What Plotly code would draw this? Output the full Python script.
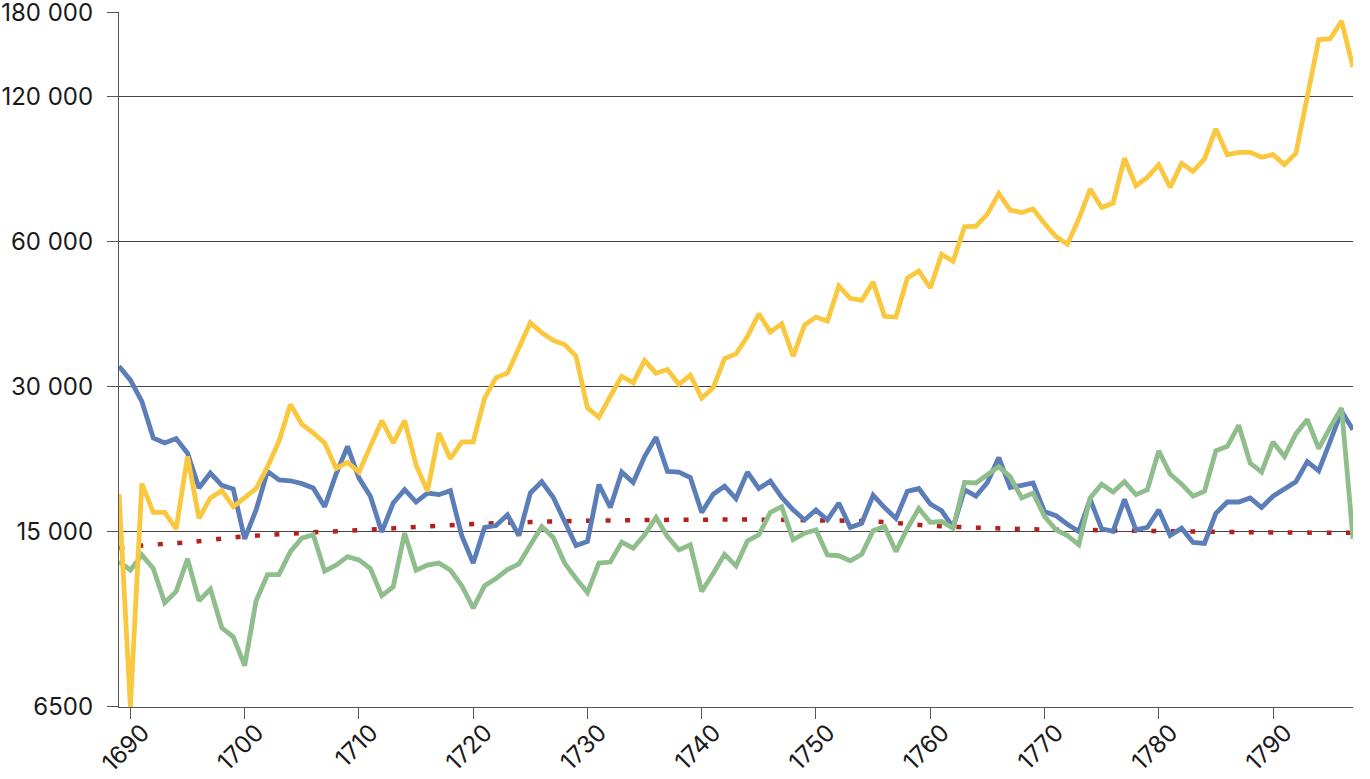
import plotly.graph_objects as go

years = list(range(1689, 1798))

yellow = [
    17970,
    6500, 18900, 16470, 16470, 15230, 21520, 16010, 17650, 18280, 16930,   # 1690-1699
    17650, 18460, 20500, 23140, 27590, 25130, 24080, 22960, 20330, 20920,  # 1700-1709
    19970, 22590, 25540, 22960, 25540, 20670, 18220, 24080, 21290, 23070,  # 1710-1719
    23070, 28450, 31380, 32040, 36170, 40780, 38880, 37480, 36760, 34760,  # 1720-1729
    27150, 25950, 28700, 31590, 30600, 34040, 32040, 32620, 30390, 31730,  # 1730-1739
    28450, 29870, 34370, 35140, 38180, 42570, 39010, 40580, 34760, 40330,  # 1740-1749
    41900, 41110, 48600, 45840, 45400, 49520, 42060, 41900, 50490, 52230,  # 1750-1759
    48140, 56560, 54680, 64500, 64720, 68530, 75660, 69880, 69080, 70220,  # 1760-1769
    65540, 61560, 59340, 66930, 77250, 70740, 72250, 89500, 78490, 81700,  # 1770-1779
    86820, 77850, 87360, 84080, 89250, 103000, 91070, 92100, 92100, 89950, # 1780-1789
    91070, 86820, 91640, 119800, 157700, 158500, 172400, 138400,           # 1790-1797
]

blue = [
    33140,
    31000, 28010, 23500, 22960, 23440, 21860, 18510, 19880, 18750, 18420,  # 1690-1699
    14510, 16670, 20040, 19240, 19160, 18900, 18510, 16930, 19790, 22590,  # 1700-1709
    19410, 17800, 15000, 17230, 18360, 17310, 18070, 17930, 18280, 14730,  # 1710-1719
    12930, 15330, 15470, 16280, 14750, 18070, 19070, 17710, 15770, 14060,  # 1720-1729
    14330, 18820, 16860, 19970, 19010, 21520, 23580, 20040, 19970, 19460,  # 1730-1739
    16470, 17970, 18670, 17600, 19970, 18460, 19130, 17710, 16670, 15890,  # 1740-1749
    16670, 15890, 17230, 15330, 15640, 17880, 16860, 16010, 18220, 18460,  # 1750-1759
    17150, 16600, 15330, 18360, 17800, 19010, 21410, 18560, 18750, 18960,  # 1760-1769
    16540, 16220, 15570, 15040, 17530, 15230, 15040, 17530, 15160, 15330,  # 1770-1779
    16670, 14750, 15270, 14270, 14200, 16400, 17310, 17310, 17650, 16860,  # 1780-1789
    17800, 18460, 19070, 21000, 20090, 23140, 26700, 24460,                # 1790-1797
]

green = [
    13030,
    12500, 13440, 12600, 10690, 11290, 13190, 10800, 11420, 9490, 9090,    # 1690-1699
    7920, 10800, 12240, 12240, 13660, 14560, 14800, 12440, 12800, 13330,   # 1700-1709
    13130, 12600, 11060, 11540, 14920, 12500, 12800, 12930, 12500, 11600,  # 1710-1719
    10420, 11600, 12010, 12530, 12870, 14100, 15400, 14610, 12930, 12010,  # 1720-1729
    11230, 12930, 12990, 14290, 13880, 14800, 16080, 14680, 13770, 14100,  # 1730-1739
    11290, 12300, 13480, 12760, 14370, 14800, 16470, 16930, 14450, 14920,  # 1740-1749
    15160, 13440, 13390, 13070, 13480, 15090, 15400, 13660, 15270, 16780,  # 1750-1759
    15710, 15770, 15270, 19010, 18960, 19720, 20500, 19520, 17650, 18070,  # 1760-1769
    16160, 15160, 14750, 14110, 17650, 18850, 18160, 19070, 17930, 18360,  # 1770-1779
    22110, 19790, 18850, 17800, 18220, 22110, 22590, 24980, 20840, 19970,  # 1780-1789
    23070, 21520, 23970, 25680, 22340, 24730, 27150, 14520,                # 1790-1797
]

trend_years = [1689, 1691, 1695, 1700, 1705, 1710, 1715, 1720, 1725, 1730, 1735,
               1740, 1745, 1750, 1755, 1760, 1765, 1770, 1775, 1780, 1785, 1790, 1797]
trend = [13900, 14060, 14280, 14680, 14930, 15130, 15360, 15580, 15730, 15830, 15880,
         15910, 15910, 15860, 15780, 15460, 15290, 15180, 15130, 15060, 15010, 14970, 14940]

y_tickvals = [6500, 15000, 30000, 60000, 120000, 180000]
y_ticktext = ["6500", "15 000", "30 000", "60 000", "120 000", "180 000"]
x_tickvals = list(range(1690, 1791, 10))

fig = go.Figure()
fig.add_trace(go.Scatter(x=trend_years, y=trend, mode="lines",
                         line=dict(color="#B3201E", width=4.5, dash="5px,14.5px", shape="spline"),
                         showlegend=False, hoverinfo="skip"))
fig.add_trace(go.Scatter(x=years, y=blue, mode="lines",
                         line=dict(color="#5B7EB9", width=4.8), showlegend=False))
fig.add_trace(go.Scatter(x=years, y=green, mode="lines",
                         line=dict(color="#8FBE8C", width=4.8), showlegend=False))
fig.add_trace(go.Scatter(x=years, y=yellow, mode="lines",
                         line=dict(color="#F9C83F", width=4.8), showlegend=False))

font_family = "Inter, Lato, sans-serif"
fig.update_layout(
    width=1370, height=779,
    margin=dict(l=119, r=17, t=12, b=72),
    paper_bgcolor="white", plot_bgcolor="white",
    font=dict(family=font_family, size=24, color="#1a1a1a"),
    showlegend=False,
)
fig.update_xaxes(
    range=[1689, 1797], tickvals=x_tickvals, tickangle=-45,
    showgrid=False, zeroline=False, automargin=False,
    ticklabeloverflow="allow",
    ticklabelshift=12, ticklabelstandoff=-10,
    showline=True, linecolor="#555555", linewidth=1.2,
    ticks="outside", ticklen=11, tickcolor="#555555", tickwidth=1.2,
    tickfont=dict(family=font_family, size=24, color="#1a1a1a"),
)
fig.update_yaxes(
    type="log", range=[3.8128, 5.2555],
    tickvals=y_tickvals, ticktext=y_ticktext,
    showgrid=True, gridcolor="#444444", gridwidth=1.2,
    zeroline=False, automargin=False,
    ticklabeloverflow="allow",
    showline=True, linecolor="#555555", linewidth=1.2,
    ticks="outside", ticklen=11, tickcolor="#555555", tickwidth=1.2,
    ticklabelstandoff=9,
    tickfont=dict(family=font_family, size=24, color="#1a1a1a"),
)

fig.write_html("out.html", config={"displayModeBar": False},
               post_script="document.body.style.margin='0';document.body.style.overflow='hidden';")
